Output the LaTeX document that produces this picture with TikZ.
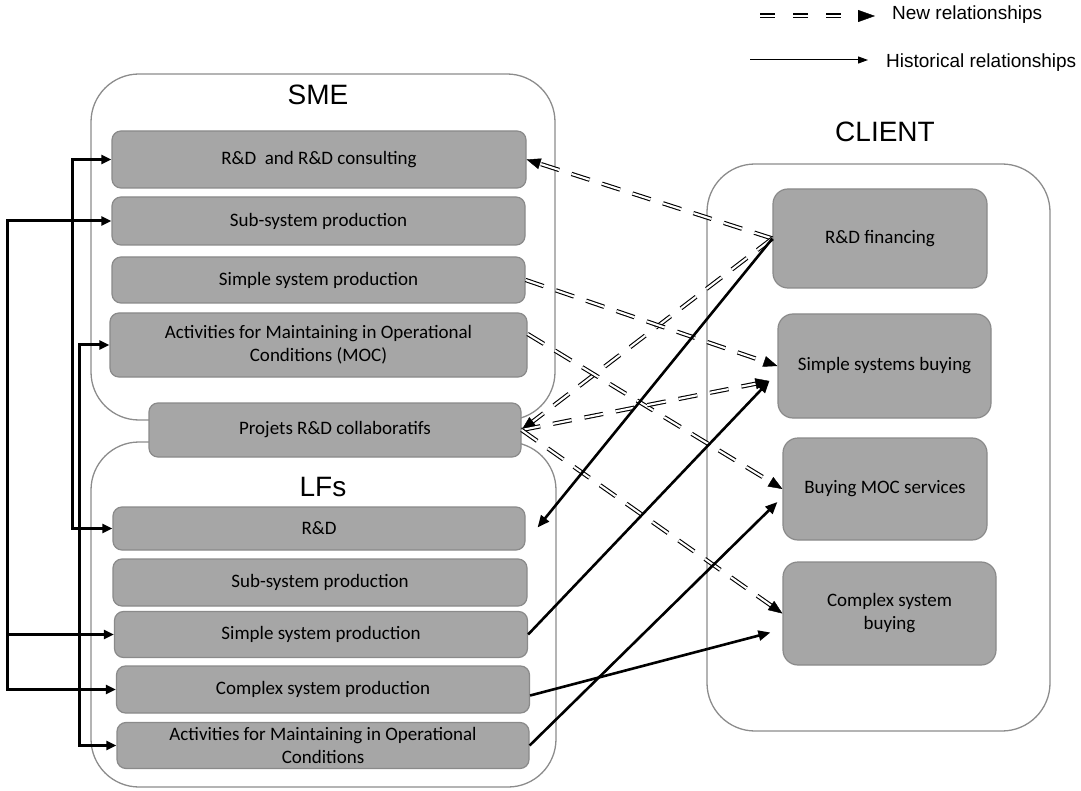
\documentclass[tikz,border=0pt]{standalone}
\usepackage{fontspec}
\setmainfont{Carlito}
\newfontfamily\arialf{Liberation Sans}
\usetikzlibrary{arrows.meta,calc}
\definecolor{boxfill}{HTML}{A6A6A6}
\definecolor{boxline}{HTML}{8A8A8A}
\definecolor{contline}{HTML}{8C8C8C}
\tikzset{
 cont/.style={draw=contline, line width=1.3pt, fill=white, rounded corners=48pt, inner sep=0pt},
 abox/.style={draw=boxline, line width=1.2pt, fill=boxfill, rounded corners=9pt, inner sep=0pt, align=center, font=\fontsize{19}{23}\selectfont},
 cbox/.style={abox, rounded corners=15pt},
 clabel/.style={font=\arialf\fontsize{28}{32}\selectfont, inner sep=0pt},
 legtext/.style={font=\arialf\fontsize{19}{22}\selectfont, anchor=west, inner sep=0pt},
 hist/.style={line width=2.6pt, -{Triangle[length=12pt,width=10pt]}},
 link/.style={line width=3pt, line join=miter},
 lboth/.style={{Triangle[length=10pt,width=9pt]}-{Triangle[length=10pt,width=9pt]}},
 ltip/.style={-{Triangle[length=10pt,width=9pt]}},
 dline/.style={double, double distance=2.1pt, line width=1.1pt, dash pattern=on 19pt off 13pt},
 dtip/.style={line width=0.4pt, -{Triangle[length=14pt,width=11pt]}},
}
\newcommand\NewRel[2]{%
  \draw[dline] (#1) -- ($(#2)!11pt!(#1)$);
  \draw[dtip] ($(#2)!14pt!(#1)$) -- (#2);}
\begin{document}
\begin{tikzpicture}[x=1pt,y=-1pt]
\useasboundingbox (0,0) rectangle (1081,791);
% containers
\node[cont, minimum width=464pt, minimum height=346pt] (sme) at (323,247) {};
\node[cont, minimum width=465pt, minimum height=345pt] (lfs) at (323.5,614.5) {};
\node[cont, minimum width=343pt, minimum height=567pt] (client) at (878.5,447.5) {};
\node[clabel] (smel) at (318,95) {SME};
\node[clabel] (lfsl) at (323,487) {LFs};
\node[clabel] (clientl) at (885,132) {CLIENT};
% SME boxes
\node[abox, minimum width=414pt, minimum height=57pt] (srd) at (319,159.5) {R\&D\ \ and R\&D consulting};
\node[abox, minimum width=413pt, minimum height=48pt] (ssub) at (318.5,221) {Sub-system production};
\node[abox, minimum width=413pt, minimum height=46pt] (ssim) at (318.5,280) {Simple system production};
\node[abox, minimum width=417pt, minimum height=64pt] (smoc) at (318.5,345) {Activities for Maintaining in Operational\\Conditions (MOC)};
\node[abox, minimum width=372pt, minimum height=54pt] (proj) at (335,430) {Projets R\&D collaboratifs};
% LFs boxes
\node[abox, minimum width=412pt, minimum height=43pt] (lrd) at (319,528.5) {R\&D};
\node[abox, minimum width=414pt, minimum height=47pt] (lsub) at (320,582.5) {Sub-system production};
\node[abox, minimum width=413pt, minimum height=46pt] (lsim) at (321,634.5) {Simple system production};
\node[abox, minimum width=413pt, minimum height=47pt] (lcx) at (323,689.5) {Complex system production};
\node[abox, minimum width=412pt, minimum height=46pt] (lmoc) at (323,745.5) {Activities for Maintaining in Operational\\Conditions};
% CLIENT boxes
\node[cbox, minimum width=214pt, minimum height=99pt] (crd) at (880,238.5) {R\&D financing};
\node[cbox, minimum width=213pt, minimum height=104pt] (ssb) at (884.5,366) {Simple systems buying};
\node[cbox, minimum width=204pt, minimum height=102pt] (bmoc) at (885,489) {Buying MOC services};
\node[cbox, minimum width=213pt, minimum height=103pt] (csb) at (889.5,613.5) {Complex system\\buying};
% helper coordinates
\coordinate (ssbin) at ($(ssb.west)+(-8,15)$);
\coordinate (lrdin) at ($(lrd.east)+(12,-1)$);
\coordinate (bmocin) at ($(bmoc.west)+(-5,13)$);
\coordinate (csbin) at ($(csb.west)+(-12,19)$);
\coordinate (lcxout) at ($(lcx.east)+(0,6)$);
\coordinate (smocout) at ($(smoc.east)+(0,-11)$);
% new relationships
\NewRel{crd.west}{srd.east}
\NewRel{crd.west}{proj.east}
\NewRel{ssim.east}{ssb.west}
\NewRel{smocout}{bmoc.west}
\NewRel{proj.east}{ssbin}
\NewRel{proj.east}{csb.west}
% historical relationships
\draw[hist] (crd.west) -- (lrdin);
\draw[hist] (lsim.east) -- (ssbin);
\draw[hist] (lcxout) -- (csbin);
\draw[hist] (lmoc.east) -- (bmocin);
% left links
\coordinate (bj) at ($(lcx.west)+(-108,0)$);
\draw[link, lboth] (srd.west) -- ++(-39,0) |- (lrd.west);
\draw[link, lboth] (smoc.west) -- ++(-30,0) |- (lmoc.west);
\draw[link, lboth] (ssub.west) -| (bj) -- (lcx.west);
\draw[link, ltip] (bj |- lsim.west) -- (lsim.west);
% legend
\coordinate (l1a) at (760,16);
\coordinate (l1m) at (845,16);
\coordinate (l1t) at (858,16);
\coordinate (l1b) at (875,16);
\draw[dline, line width=1.3pt, double distance=2.4pt, dash pattern=on 15pt off 18pt] (l1a) -- (l1m);
\draw[line width=0.4pt, -{Triangle[length=17pt,width=12pt]}] (l1t) -- (l1b);
\node[legtext] (newrel) at (892,15) {New relationships};
\coordinate (l2a) at (750,60);
\coordinate (l2b) at (868,60);
\draw[line width=1pt, -{Triangle[length=10pt,width=7pt]}] (l2a) -- (l2b);
\node[legtext] (histrel) at (886,63) {Historical relationships};
\end{tikzpicture}
\end{document}
